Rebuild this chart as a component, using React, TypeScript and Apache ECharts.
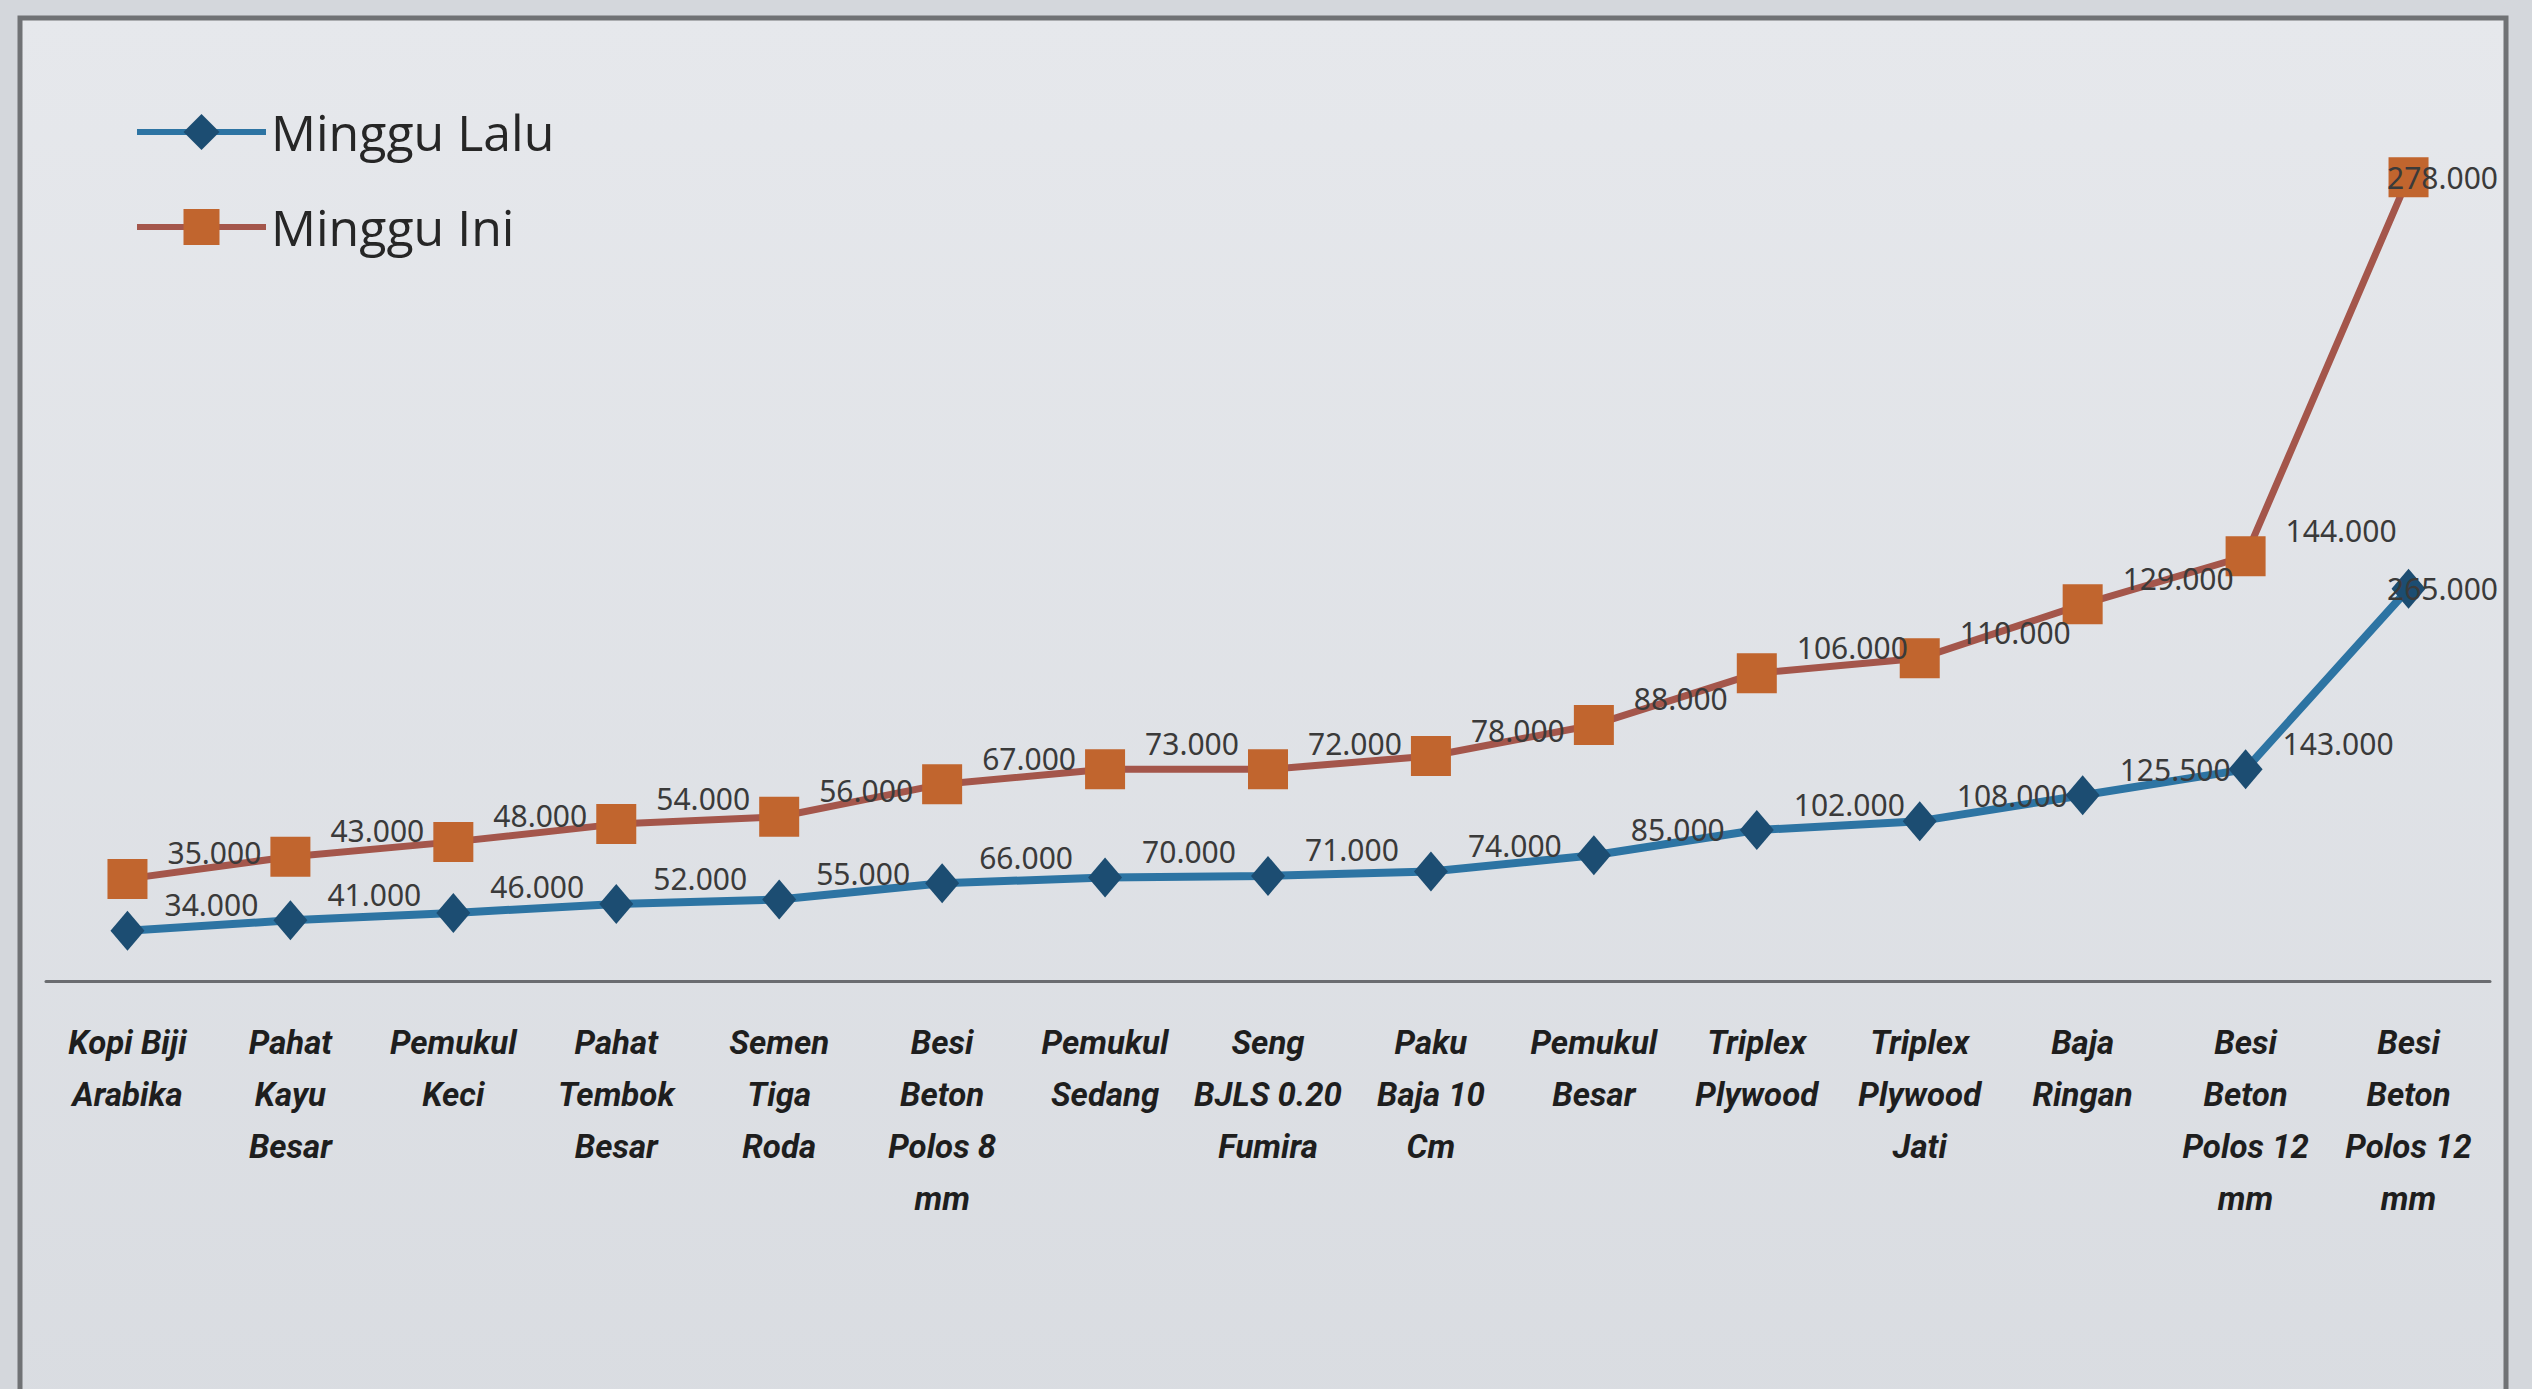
import React, { useEffect, useRef } from "react";
import * as echarts from "echarts";

const categories = [
  "Kopi Biji\nArabika",
  "Pahat\nKayu\nBesar",
  "Pemukul\nKeci",
  "Pahat\nTembok\nBesar",
  "Semen\nTiga\nRoda",
  "Besi\nBeton\nPolos 8\nmm",
  "Pemukul\nSedang",
  "Seng\nBJLS 0.20\nFumira",
  "Paku\nBaja 10\nCm",
  "Pemukul\nBesar",
  "Triplex\nPlywood",
  "Triplex\nPlywood\nJati",
  "Baja\nRingan",
  "Besi\nBeton\nPolos 12\nmm",
  "Besi\nBeton\nPolos 12\nmm",
];

const mingguLalu = [34000, 41000, 46000, 52000, 55000, 66000, 70000, 71000, 74000, 85000, 102000, 108000, 125500, 143000, 265000];
const mingguIni = [35000, 43000, 48000, 54000, 56000, 67000, 73000, 72000, 78000, 88000, 106000, 110000, 129000, 144000, 278000];

const seriesNames = ["Minggu Lalu", "Minggu Ini"];

function fmt(v: number): string {
  const th = Math.floor(v / 1000);
  const rest = String(Math.round(v % 1000)).padStart(3, "0");
  return th + "." + rest;
}

export default function App() {
  const ref = useRef<HTMLDivElement>(null);
  useEffect(() => {
    document.body.style.margin = "0";
    const chart = echarts.init(ref.current!, undefined, { renderer: "svg" });
    const labelCommon = {
      show: true,
      position: "right" as const,
      distance: 20,
      offset: [0, -26],
      color: "#3a3a3a",
      fontFamily: "Noto Sans",
      fontSize: 30,
      formatter: (p: any) => fmt(p.value),
    };
    const lastLabel = {
      position: "inside" as const,
      offset: [34, 0],
    };
    const toData = (arr: number[]) =>
      arr.map((v, i) =>
        i === arr.length - 1 ? { value: v, label: lastLabel } : v
      );
    chart.setOption({
      animation: false,
      backgroundColor: "#d4d7dc",
      graphic: [
        {
          type: "rect",
          z: -10,
          shape: { x: 20, y: 18, width: 2486, height: 1420 },
          style: {
            fill: new echarts.graphic.LinearGradient(0, 0, 0, 1, [
              { offset: 0, color: "#e6e8ec" },
              { offset: 1, color: "#d9dce1" },
            ]),
            stroke: "#707275",
            lineWidth: 5,
          },
        },
      ],
      legend: {
        orient: "vertical",
        left: 129,
        top: 102,
        itemWidth: 129,
        itemHeight: 45,
        itemGap: 45,
        lineStyle: { width: 6 },
        textStyle: { fontFamily: "Open Sans", fontSize: 50, color: "#262626" },
        data: seriesNames,
      },
      grid: { left: 46, right: 42, top: 93, bottom: 408 },
      xAxis: {
        type: "category",
        data: categories,
        boundaryGap: true,
        axisLine: { show: true, lineStyle: { color: "#6a6c70", width: 3 } },
        axisTick: { show: false },
        axisLabel: {
          interval: 0,
          margin: 35,
          color: "#1e1e1e",
          fontFamily: "Roboto",
          fontStyle: "italic",
          fontWeight: "bold",
          fontSize: 33,
          lineHeight: 52,
        },
      },
      yAxis: {
        type: "value",
        min: 0,
        max: 600000,
        show: false,
        splitLine: { show: false },
      },
      series: [
        {
          name: seriesNames[0],
          type: "line",
          stack: "total",
          data: toData(mingguLalu),
          symbol: "diamond",
          symbolSize: [34, 40],
          lineStyle: { color: "#2d74a3", width: 8 },
          itemStyle: { color: "#1c4d72" },
          label: labelCommon,
          z: 3,
        },
        {
          name: seriesNames[1],
          type: "line",
          stack: "total",
          data: toData(mingguIni),
          symbol: "rect",
          symbolSize: 40,
          lineStyle: { color: "#a4564b", width: 7 },
          itemStyle: { color: "#c1652e" },
          label: labelCommon,
          z: 3,
        },
      ],
    });
    return () => chart.dispose();
  }, []);
  return (
    <div
      ref={ref}
      style={{ position: "fixed", left: 0, top: 0, width: 2532, height: 1389 }}
    />
  );
}
